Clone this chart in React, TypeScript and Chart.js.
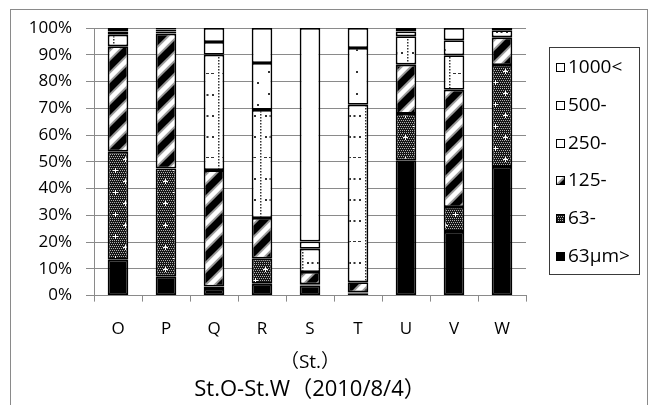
import React, { useEffect, useRef } from 'react';
import { Chart, registerables } from 'chart.js';

Chart.register(...registerables);

// ---- data (percent of each size class per station) ----
const stations = ['O', 'P', 'Q', 'R', 'S', 'T', 'U', 'V', 'W'];
const seriesLabels = ['63µm>', '63-', '125-', '250-', '500-', '1000<'];
const silt = [13.4, 7.2, 2.5, 4.4, 3.8, 0.9, 50.6, 23.8, 48.1];
const sand63 = [40.4, 40.3, 0.9, 9.4, 0.4, 0.3, 17.3, 9.3, 38.1];
const sand125 = [39.4, 50.4, 43.5, 15.2, 4.6, 3.8, 18.4, 43.8, 10.3];
const sand250 = [4.3, 0.8, 43.1, 40.4, 8.7, 66.3, 10.6, 12.9, 2.7];
const sand500 = [1.2, 0.7, 4.75, 17.5, 2.7, 21.2, 1.8, 5.6, 0.4];
const gravel1000 = [1.3, 0.6, 5.25, 13.1, 79.8, 7.5, 1.3, 4.6, 0.4];
const yTickValues = [0, 10, 20, 30, 40, 50, 60, 70, 80, 90, 100];
const xAxisTitle = '（St.）';
const chartTitle = 'St.O-St.W（2010/8/4）';

const FONT = '"Open Sans", "Noto Sans CJK JP", sans-serif';

function tile(w: number, h: number, draw: (c: CanvasRenderingContext2D) => void): CanvasPattern | string {
  const cv = document.createElement('canvas');
  cv.width = w;
  cv.height = h;
  const c = cv.getContext('2d')!;
  draw(c);
  const p = c.createPattern(cv, 'repeat');
  return p || '#888';
}

function makePatterns() {
  const black = '#000000';
  const grey = tile(20, 22, (c) => {
    c.fillStyle = '#151515';
    c.fillRect(0, 0, 20, 22);
    c.fillStyle = '#b0b0b0';
    for (let y = 0; y < 22; y += 2) {
      for (let x = (y / 2) % 2 === 0 ? 0 : 1; x < 20; x += 2) {
        c.fillRect(x, y, 1, 1);
      }
    }
    c.fillStyle = '#ffffff';
    const plus = (x: number, y: number) => {
      c.fillRect(x - 2, y, 5, 1);
      c.fillRect(x, y - 2, 1, 5);
    };
    plus(5, 5);
    plus(15, 16);
  });
  const T = 22;
  const stripes = tile(T, T, (c) => {
    c.fillStyle = '#fff';
    c.fillRect(0, 0, T, T);
    const line = (w: number, col: string) => {
      c.strokeStyle = col;
      c.lineWidth = w;
      for (const k of [0, T, 2 * T]) {
        c.beginPath();
        c.moveTo(k + 6, -6);
        c.lineTo(-6, k + 6);
        c.stroke();
      }
    };
    line(11, '#9a9a9a');
    line(7, '#000');
  });
  const dotted = tile(21, 84, (c) => {
    c.fillStyle = '#fff';
    c.fillRect(0, 0, 21, 84);
    c.fillStyle = '#333';
    for (let y = 0; y < 84; y += 3) c.fillRect(8, y, 1.5, 1.5);
    for (let r = 0; r < 4; r++) {
      const y = 10 + r * 21;
      if (r === 3) {
        c.fillRect(12, y, 3, 1);
        c.fillRect(17, y, 3, 1);
        c.fillRect(1, y, 3, 1);
      } else {
        c.fillRect(13, y, 2, 2);
        c.fillRect(17.5, y, 2, 2);
        c.fillRect(2, y, 2, 2);
      }
    }
  });
  const sparse = tile(22, 22, (c) => {
    c.fillStyle = '#fff';
    c.fillRect(0, 0, 22, 22);
    c.fillStyle = '#333';
    c.fillRect(4, 5, 2, 2);
    c.fillRect(15, 16, 2, 2);
  });
  const white = '#ffffff';
  return [black, grey, stripes, dotted, sparse, white];
}

const framePlugin = {
  id: 'outerFrame',
  beforeDraw(chart: any) {
    const ctx = chart.ctx as CanvasRenderingContext2D;
    ctx.save();
    ctx.fillStyle = '#ffffff';
    ctx.fillRect(0, 0, chart.width, chart.height);
    ctx.strokeStyle = '#8a8a8a';
    ctx.lineWidth = 1;
    ctx.strokeRect(10.5, 9.5, 637, 420);
    ctx.restore();
  },
};

const boxLegendPlugin = {
  id: 'boxLegend',
  afterDraw(chart: any) {
    const ctx = chart.ctx as CanvasRenderingContext2D;
    const left = 549.5;
    const top = 47.5;
    const w = 90;
    const h = 227;
    ctx.save();
    ctx.strokeStyle = '#3a3a3a';
    ctx.lineWidth = 1;
    ctx.strokeRect(left, top, w, h);
    const items = chart.data.datasets.slice().reverse();
    const step = 37.8;
    items.forEach((d: any, i: number) => {
      const cy = Math.round(top + 19.5 + i * step);
      ctx.fillStyle = d.backgroundColor;
      ctx.fillRect(556, cy - 4, 9, 9);
      ctx.strokeStyle = '#000';
      ctx.lineWidth = 1;
      ctx.strokeRect(556.5, cy - 3.5, 8, 8);
      ctx.fillStyle = '#000';
      ctx.font = `19px ${FONT}`;
      ctx.textBaseline = 'middle';
      ctx.textAlign = 'left';
      ctx.fillText(d.label, 568, cy + 1);
    });
    ctx.restore();
  },
};

export default function App() {
  const ref = useRef<HTMLCanvasElement>(null);

  useEffect(() => {
    if (!ref.current) return;
    const fills = makePatterns();
    const series = [silt, sand63, sand125, sand250, sand500, gravel1000];
    const chart = new Chart(ref.current, {
      type: 'bar',
      data: {
        labels: stations,
        datasets: series.map((vals, i) => ({
          label: seriesLabels[i],
          data: vals,
          backgroundColor: fills[i] as any,
          borderColor: '#000',
          borderWidth: 1.8,
          borderSkipped: false,
          categoryPercentage: 0.43,
          barPercentage: 1,
        })),
      },
      options: {
        responsive: false,
        animation: false,
        devicePixelRatio: 1,
        layout: { padding: { top: 28, right: 126, bottom: 0, left: 0 } },
        plugins: {
          legend: { display: false },
          tooltip: { enabled: false },
          title: {
            display: true,
            text: chartTitle,
            position: 'bottom',
            fullSize: false,
            color: '#000',
            font: { family: FONT, size: 22, weight: 'normal', lineHeight: 1.2 },
            padding: { top: 6, bottom: 2 },
          },
        },
        scales: {
          x: {
            stacked: true,
            afterFit: (s: any) => {
              s.height = 75;
            },
            grid: {
              display: true,
              drawOnChartArea: false,
              drawTicks: true,
              tickLength: 6,
              color: '#8a8a8a',
              offset: true,
            },
            border: { display: true, color: '#8a8a8a' },
            ticks: {
              color: '#000',
              padding: 17,
              font: { family: FONT, size: 17 },
            },
            title: {
              display: true,
              text: xAxisTitle,
              color: '#000',
              font: { family: FONT, size: 19 },
              padding: { top: 0, bottom: -3 },
            },
          },
          y: {
            stacked: true,
            min: 0,
            max: 100,
            afterFit: (s: any) => {
              s.width = 94;
            },
            afterBuildTicks: (s: any) => {
              s.ticks = yTickValues.map((v) => ({ value: v }));
            },
            grid: {
              color: '#8a8a8a',
              tickLength: 8,
              drawTicks: true,
            },
            border: { display: true, color: '#8a8a8a' },
            ticks: {
              color: '#000',
              padding: 14,
              font: { family: FONT, size: 17 },
              callback: (v: any) => `${v}%`,
            },
          },
        },
      },
      plugins: [framePlugin, boxLegendPlugin],
    });
    return () => chart.destroy();
  }, []);

  return (
    <div style={{ position: 'fixed', left: 0, top: 0, width: 652, height: 405, background: '#fff' }}>
      <canvas ref={ref} width={652} height={405} style={{ display: 'block' }} />
    </div>
  );
}
